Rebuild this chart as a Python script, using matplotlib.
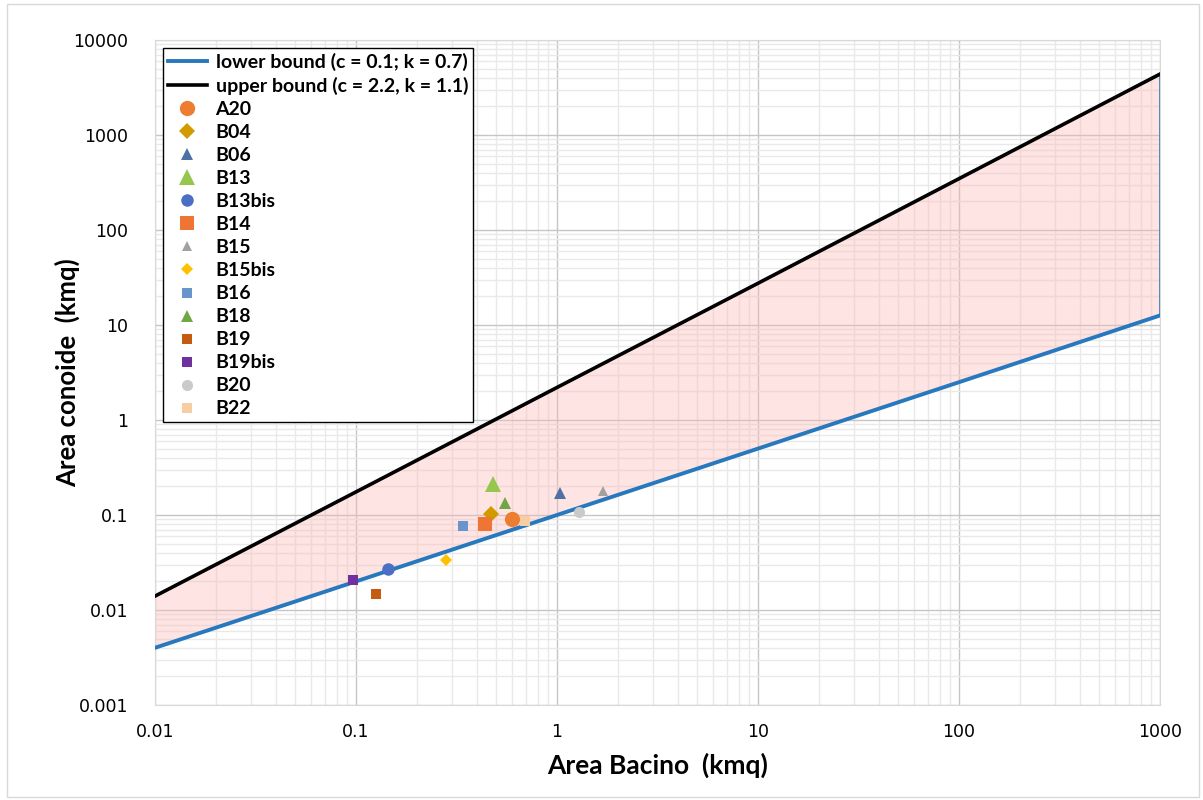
import numpy as np
import matplotlib
matplotlib.use("Agg")
import matplotlib.pyplot as plt
from matplotlib.patches import Rectangle

# bound lines, values read at each decade
bound_x = [0.01, 0.1, 1, 10, 100, 1000]
lower_y = [0.004, 0.02, 0.1, 0.5, 2.5, 12.6]
upper_y = [0.014, 0.175, 2.2, 27.5, 347, 4380]

# catchments (area bacino, area conoide)
names = ["A20", "B04", "B06", "B13", "B13bis", "B14", "B15", "B15bis",
         "B16", "B18", "B19", "B19bis", "B20", "B22"]
area_bacino = [0.60, 0.47, 1.04, 0.48, 0.145, 0.44, 1.70, 0.28,
               0.34, 0.55, 0.126, 0.097, 1.28, 0.69]
area_conoide = [0.090, 0.103, 0.170, 0.210, 0.027, 0.080, 0.180, 0.034,
                0.077, 0.135, 0.0148, 0.0205, 0.107, 0.086]

markers = ["o", "D", "^", "^", "o", "s", "^", "D", "s", "^", "s", "s", "o", "s"]
sizes = [11, 8.5, 9, 11, 9, 10, 7, 6, 7.5, 8, 7.5, 7.5, 8, 7.5]
colors = ["#ED7D31", "#D39A00", "#4E70A4", "#96C64E", "#4A6FC4", "#EE7533",
          "#A5A0A0", "#FFC000", "#6A95CC", "#72A644", "#C55A11", "#7030A0",
          "#CACACA", "#F9CDA4"]

fig = plt.figure(figsize=(12.03, 8), dpi=100)
ax = fig.add_axes([155 / 1203, 1 - 705 / 800, 1005 / 1203, 665 / 800])
fig.patches.append(Rectangle((7 / 1203, 3 / 800), 1192 / 1203, 793 / 800,
                             transform=fig.transFigure, fill=False,
                             edgecolor="#d9d9d9", lw=1))

ax.set_xscale("log")
ax.set_yscale("log")
ax.set_xlim(0.01, 1000)
ax.set_ylim(0.001, 10000)

# shaded band between bounds, outlined in blue
poly_x = bound_x + bound_x[::-1]
poly_y = lower_y + upper_y[::-1]
ax.fill(poly_x, poly_y, facecolor=(1, 0.72, 0.72, 0.38), edgecolor="#2E75B6",
        lw=1.2, zorder=2)

ax.plot(bound_x, lower_y, color="#2878BE", lw=2.8, zorder=3,
        label="lower bound (c = 0.1; k = 0.7)")
ax.plot(bound_x, upper_y, color="black", lw=2.6, zorder=3,
        label="upper bound (c = 2.2, k = 1.1)")

for i in range(len(names)):
    ax.plot(area_bacino[i], area_conoide[i], linestyle="none",
            marker=markers[i], ms=sizes[i], color=colors[i],
            markeredgewidth=0, zorder=4, label=names[i])

ax.set_axisbelow(True)
ax.grid(which="major", color="#c6c6c6", lw=1)
ax.grid(which="minor", color="#e9e9e9", lw=1)
ax.tick_params(which="both", length=0, labelsize=12.5)
ax.tick_params(axis="x", pad=13)
ax.tick_params(axis="y", pad=19)
for s in ax.spines.values():
    s.set_color("#d9d9d9")

ax.set_xticks(bound_x)
ax.set_xticklabels(["0.01", "0.1", "1", "10", "100", "1000"])
yt = [0.001, 0.01, 0.1, 1, 10, 100, 1000, 10000]
ax.set_yticks(yt)
ax.set_yticklabels(["0.001", "0.01", "0.1", "1", "10", "100", "1000", "10000"])

ax.set_xlabel("Area Bacino  (kmq)", fontsize=19, fontweight="bold",
              family="Lato", labelpad=8)
ax.set_ylabel("Area conoide  (kmq)", fontsize=18.5, fontweight="bold",
              family="Lato")
ax.yaxis.set_label_coords(-0.0746, 0.5)

leg = ax.legend(loc="upper left", bbox_to_anchor=(0.008, 0.988),
                borderaxespad=0, fancybox=False, framealpha=1,
                edgecolor="black", handlelength=2.0, labelspacing=0.31,
                handletextpad=0.45, borderpad=0.25,
                prop={"family": "Lato", "weight": "bold", "size": 14})
leg.get_frame().set_linewidth(1)

fig.savefig("out.png", dpi=100)
